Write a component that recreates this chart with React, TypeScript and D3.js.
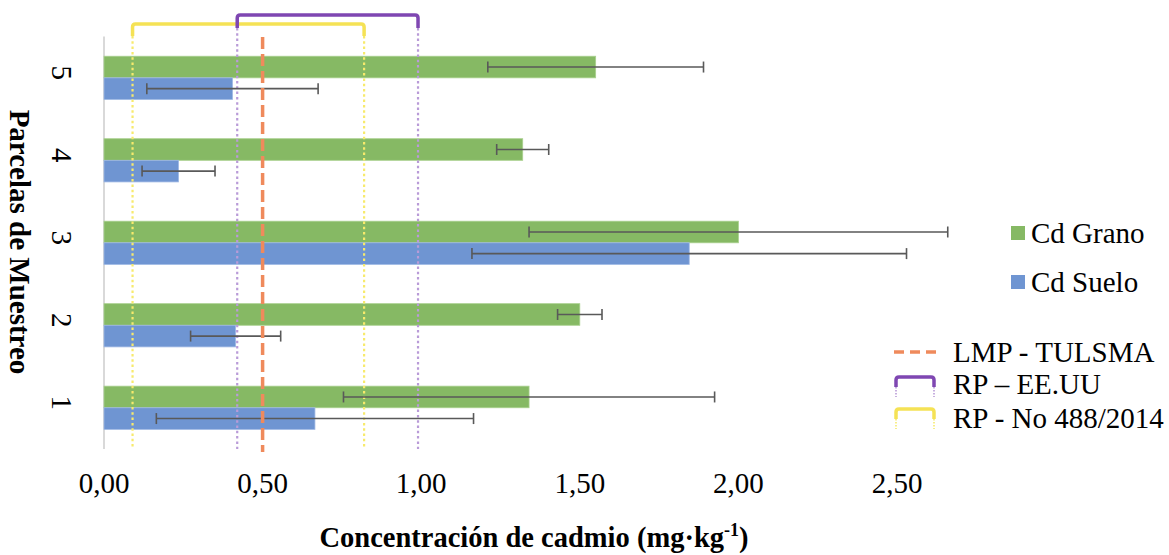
import { useEffect, useRef } from "react";
import * as d3 from "d3";

// data
const parcelas = ["1", "2", "3", "4", "5"];
const cdGrano = [1.34, 1.5, 2.0, 1.32, 1.55];
const cdGranoErr = [0.585, 0.07, 0.66, 0.082, 0.34];
const cdSuelo = [0.665, 0.415, 1.845, 0.235, 0.405];
const cdSueloErr = [0.5, 0.142, 0.685, 0.115, 0.27];
const xTicks = [0, 0.5, 1, 1.5, 2, 2.5];
const lmpTulsma = 0.5;
const rpEEUU = [0.42, 0.99];
const rpNo488 = [0.09, 0.82];

const W = 1169;
const H = 555;
const FONT = "'Times New Roman', 'Liberation Serif', Tinos, serif";
const GREEN = "#86b964";
const BLUE = "#6f95d2";
const ERR = "#595959";
const ORANGE = "#ef8a5c";
const PURPLE = "#7f47b2";
const PURPLE_DOT = "#b99bd8";
const YELLOW = "#f5e255";
const YELLOW_DOT = "#f7ea6c";

function App() {
  const ref = useRef<SVGSVGElement>(null);

  useEffect(() => {
    const svg = d3.select(ref.current);
    svg.selectAll("*").remove();

    const x = d3.scaleLinear().domain([0, 2.5]).range([104, 897]);
    // 5 on top, 1 at the bottom
    const y = d3.scaleBand().domain([...parcelas].reverse()).range([36.6, 449]);
    const step = y.step();
    const barH = step * 0.262;
    const center = (p: string) => (y(p) as number) + step / 2;

    // vertical axis line
    svg
      .append("line")
      .attr("x1", x(0))
      .attr("x2", x(0))
      .attr("y1", 36.6)
      .attr("y2", 449)
      .attr("stroke", "#d9d9d9")
      .attr("stroke-width", 2);

    const series = [
      { vals: cdGrano, errs: cdGranoErr, color: GREEN, stroke: "#a9d08e", off: -barH },
      { vals: cdSuelo, errs: cdSueloErr, color: BLUE, stroke: "#9fb8e4", off: 0 },
    ];

    series.forEach((s) => {
      const g = svg.append("g");
      g.selectAll("rect")
        .data(parcelas)
        .join("rect")
        .attr("x", x(0))
        .attr("y", (p) => center(p) + s.off)
        .attr("width", (_, i) => x(s.vals[i]) - x(0))
        .attr("height", barH)
        .attr("fill", s.color)
        .attr("stroke", s.stroke)
        .attr("stroke-width", 0.8);
    });

    // reference lines (drawn over the bars)
    const dotted = (v: number, color: string, top: number) =>
      svg
        .append("line")
        .attr("x1", x(v))
        .attr("x2", x(v))
        .attr("y1", top)
        .attr("y2", 449)
        .attr("stroke", color)
        .attr("stroke-width", 2.2)
        .attr("stroke-dasharray", "2.5 2.8");

    rpNo488.forEach((v) => dotted(v, YELLOW_DOT, 36));
    rpEEUU.forEach((v) => dotted(v, PURPLE_DOT, 28));

    // brackets on top
    const bracket = (r: number[], top: number, bottom: number, color: string) =>
      svg
        .append("path")
        .attr(
          "d",
          `M${x(r[0])},${bottom} V${top + 3} Q${x(r[0])},${top} ${x(r[0]) + 3},${top} H${x(r[1]) - 3} Q${x(r[1])},${top} ${x(r[1])},${top + 3} V${bottom}`
        )
        .attr("fill", "none")
        .attr("stroke", color)
        .attr("stroke-width", 3.5);

    bracket(rpNo488, 24, 36, YELLOW);
    bracket(rpEEUU, 15, 28, PURPLE);

    // error bars
    series.forEach((s) => {
      const g = svg.append("g").attr("stroke", ERR).attr("stroke-width", 1.6);
      parcelas.forEach((p, i) => {
        const cy = center(p) + s.off + barH / 2;
        const lo = x(s.vals[i] - s.errs[i]);
        const hi = x(s.vals[i] + s.errs[i]);
        g.append("line").attr("x1", lo).attr("x2", hi).attr("y1", cy).attr("y2", cy);
        [lo, hi].forEach((xx) =>
          g.append("line").attr("x1", xx).attr("x2", xx).attr("y1", cy - 5.5).attr("y2", cy + 5.5)
        );
      });
    });

    // LMP dashed line
    svg
      .append("line")
      .attr("x1", x(lmpTulsma))
      .attr("x2", x(lmpTulsma))
      .attr("y1", 37)
      .attr("y2", 452)
      .attr("stroke", ORANGE)
      .attr("stroke-width", 3.5)
      .attr("stroke-dasharray", "12 5");

    // x tick labels
    const fmt = (v: number) => d3.format(".2f")(v).replace(".", ",");
    svg
      .append("g")
      .selectAll("text")
      .data(xTicks)
      .join("text")
      .attr("x", (d) => x(d))
      .attr("y", 493)
      .attr("text-anchor", "middle")
      .attr("font-family", FONT)
      .attr("font-size", 29)
      .text(fmt);

    // category labels, rotated
    svg
      .append("g")
      .selectAll("text")
      .data(parcelas)
      .join("text")
      .attr("transform", (p) => `translate(52,${center(p) - 5}) rotate(90)`)
      .attr("text-anchor", "middle")
      .attr("font-family", FONT)
      .attr("font-size", 29)
      .text((p) => p);

    // axis titles
    svg
      .append("text")
      .attr("transform", "translate(9.5,242) rotate(90)")
      .attr("text-anchor", "middle")
      .attr("font-family", FONT)
      .attr("font-size", 29)
      .attr("font-weight", "bold")
      .text("Parcelas de Muestreo");

    const xt = svg
      .append("text")
      .attr("x", 534)
      .attr("y", 547)
      .attr("text-anchor", "middle")
      .attr("font-family", FONT)
      .attr("font-size", 28.5)
      .attr("font-weight", "bold");
    xt.append("tspan").text("Concentración de cadmio (mg·kg");
    xt.append("tspan").attr("font-size", 18).attr("dy", -11).text("-1");
    xt.append("tspan").attr("dy", 11).text(")");

    // legend: bars
    const legBars = [
      { label: "Cd Grano", color: GREEN, y: 233 },
      { label: "Cd Suelo", color: BLUE, y: 282 },
    ];
    legBars.forEach((l) => {
      svg
        .append("rect")
        .attr("x", 1011)
        .attr("y", l.y - 7)
        .attr("width", 14)
        .attr("height", 14)
        .attr("fill", l.color);
      svg
        .append("text")
        .attr("x", 1031)
        .attr("y", l.y + 10)
        .attr("font-family", FONT)
        .attr("font-size", 29)
        .text(l.label);
    });

    // legend: lines
    svg
      .append("line")
      .attr("x1", 894)
      .attr("x2", 937)
      .attr("y1", 352)
      .attr("y2", 352)
      .attr("stroke", ORANGE)
      .attr("stroke-width", 3.5)
      .attr("stroke-dasharray", "10 6");

    const legBracket = (top: number, color: string, dot: string) => {
      svg
        .append("path")
        .attr("d", `M896,${top + 10} V${top + 3} Q896,${top} 899,${top} H931 Q934,${top} 934,${top + 3} V${top + 10}`)
        .attr("fill", "none")
        .attr("stroke", color)
        .attr("stroke-width", 3.5);
      [896, 934].forEach((xx) =>
        svg
          .append("line")
          .attr("x1", xx)
          .attr("x2", xx)
          .attr("y1", top + 10)
          .attr("y2", top + 20)
          .attr("stroke", dot)
          .attr("stroke-width", 1.6)
          .attr("stroke-dasharray", "1.5 1.5")
      );
    };
    legBracket(377, PURPLE, PURPLE_DOT);
    legBracket(409, YELLOW, YELLOW_DOT);

    const legLines = [
      { label: "LMP - TULSMA", y: 362 },
      { label: "RP – EE.UU", y: 394 },
      { label: "RP - No 488/2014", y: 428 },
    ];
    legLines.forEach((l) =>
      svg
        .append("text")
        .attr("x", 953)
        .attr("y", l.y)
        .attr("font-family", FONT)
        .attr("font-size", 29)
        .text(l.label)
    );
  }, []);

  return (
    <div style={{ position: "absolute", left: 0, top: 0, background: "#fff" }}>
      <svg ref={ref} width={W} height={H} style={{ display: "block" }} />
    </div>
  );
}

export default App;
